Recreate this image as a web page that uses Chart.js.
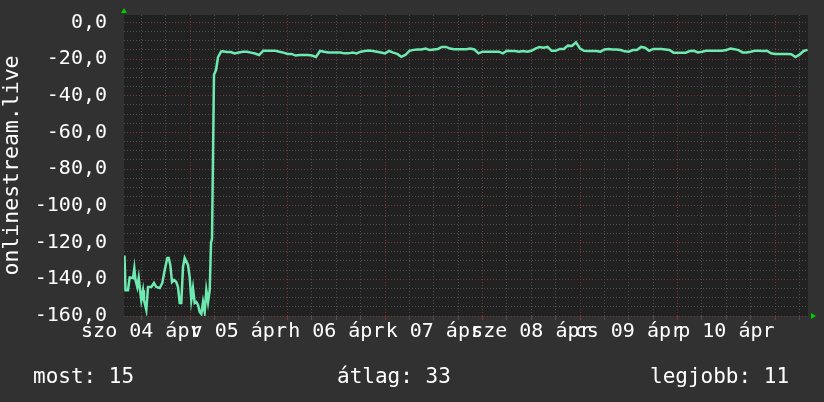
<!DOCTYPE html>
<html>
<head>
<meta charset="utf-8">
<script src="https://cdn.jsdelivr.net/npm/chart.js@4.4.1/dist/chart.umd.min.js"></script>
<style>
  html, body { margin: 0; padding: 0; background: #313131; }
  canvas { display: block; }
</style>
</head>
<body>
<canvas id="chart" width="824" height="402"></canvas>
<script>
// hours counted from szo 04 ápr 00:00
const earlyHours = [7.87, 8.12, 8.73, 9.15, 9.97, 10.29, 10.58, 11.02, 11.37, 11.61,
  12.01, 12.43, 12.67, 13.24, 13.66, 14.47, 15.13, 15.7, 16.54, 17.18,
  17.77, 18.41, 18.75, 19.15, 19.57, 20.06, 20.62, 21.04, 21.46, 21.85,
  22.27, 22.69, 23.5, 23.92, 24.32, 24.73, 25.15, 25.55, 25.97, 26.38,
  26.78, 27.2, 27.61, 28.01, 28.43, 28.85, 29.17, 29.41, 29.9, 30.4,
  30.89, 31.63];
const earlyRank = [-127, -146, -146, -139, -139.3, -134, -140.4, -144.2, -139.3, -144.2,
  -151.3, -146, -151.3, -156.7, -144.2, -144.2, -142, -144.2, -144.8, -142,
  -135, -128.4, -128.4, -132.2, -141.5, -140.4, -141.5, -144.2, -152.9, -152.9,
  -133.3, -128.4, -132.2, -138.8, -151.3, -144.8, -152.9, -152.4, -154, -157.8,
  -158.9, -152.4, -157.8, -145.9, -152.4, -145.9, -120, -118, -28.5, -26,
  -19, -16];

// one reading per hour from hour 32 on
const hourlyStart = 32;
const hourlyRank = [
  -15.8, -16.2, -16.2, -17.0, -16.4, -16.0, -16.0, -16.5, -17.0, -17.8,
  -15.5, -15.5, -15.5, -15.5, -16.0, -16.5, -17.2, -17.2, -18.1, -17.8,
  -17.8, -17.8, -18.1, -18.9, -15.6, -16.0, -16.4, -16.4, -16.4, -16.4,
  -16.9, -16.9, -16.5, -16.9, -16.0, -15.6, -15.3, -15.6, -16.0, -16.4,
  -16.9, -15.6, -16.5, -17.2, -18.8, -17.8, -15.5, -15.0, -14.8, -14.8,
  -14.3, -15.1, -14.8, -14.5, -13.4, -13.4, -14.3, -14.6, -14.6, -14.6,
  -14.6, -14.3, -14.8, -16.9, -16.0, -16.0, -16.0, -16.0, -16.0, -16.9,
  -15.5, -15.6, -15.6, -16.0, -15.6, -16.0, -15.5, -14.3, -13.4, -13.8,
  -13.4, -15.5, -15.5, -14.5, -14.5, -12.7, -12.9, -10.9, -14.3, -15.5,
  -15.6, -15.6, -15.6, -16.0, -14.8, -14.5, -14.8, -14.8, -15.1, -15.8,
  -16.0, -15.1, -15.1, -13.4, -13.8, -15.5, -14.5, -14.5, -14.5, -14.8,
  -15.1, -16.5, -16.5, -16.5, -16.5, -15.6, -15.5, -16.4, -16.0, -15.5,
  -15.5, -15.5, -15.5, -15.5, -15.1, -14.3, -14.6, -15.1, -16.4, -16.4,
  -16.0, -15.5, -15.5, -15.6, -15.5, -16.9, -17.2, -17.2, -17.2, -17.2,
  -17.4, -18.9, -17.6, -15.6, -15.0
];

const dayLabels = ['szo 04 ápr', 'v 05 ápr', 'h 06 ápr', 'k 07 ápr', 'sze 08 ápr', 'cs 09 ápr', 'p 10 ápr'];
const yMajor = [0, -20, -40, -60, -80, -100, -120, -140, -160];
const summary = ['most: 15', 'átlag: 33', 'legjobb: 11'];

const FONT = { family: 'DejaVu Sans Mono', size: 20 };
const RED = '#7a3636';
const GRAY = '#4e4e4e';

const points = earlyHours.map((h, i) => ({ x: h, y: earlyRank[i] }))
  .concat(hourlyRank.map((v, i) => ({ x: hourlyStart + i, y: v })));

const rrdLook = {
  id: 'rrdLook',
  beforeDraw(chart) {
    const { ctx, chartArea: a } = chart;
    ctx.save();
    ctx.fillStyle = '#313131';
    ctx.fillRect(0, 0, chart.width, chart.height);
    ctx.fillStyle = '#212121';
    ctx.fillRect(a.left, a.top, a.right - a.left, a.bottom - a.top);
    ctx.restore();
  },
  afterDraw(chart) {
    const { ctx, chartArea: a } = chart;
    ctx.save();
    // little green arrows at the axis ends
    ctx.fillStyle = '#00cc00';
    ctx.beginPath();
    ctx.moveTo(a.left - 3, a.top - 2);
    ctx.lineTo(a.left + 3, a.top - 2);
    ctx.lineTo(a.left, a.top - 7);
    ctx.fill();
    ctx.beginPath();
    ctx.moveTo(a.right + 3, a.bottom - 3);
    ctx.lineTo(a.right + 3, a.bottom + 3);
    ctx.lineTo(a.right + 8, a.bottom);
    ctx.fill();

    ctx.fillStyle = '#ffffff';
    ctx.font = '21px "DejaVu Sans Mono"';
    ctx.textBaseline = 'alphabetic';
    ctx.fillText(summary[0], 33, 383);
    ctx.fillText(summary[1], 337, 383);
    ctx.fillText(summary[2], 650, 383);
    ctx.restore();
  }
};

new Chart(document.getElementById('chart'), {
  type: 'line',
  data: {
    datasets: [{
      data: points,
      borderColor: '#6eeab0',
      borderWidth: 2.5,
      pointRadius: 0,
      tension: 0,
      fill: false
    }]
  },
  options: {
    responsive: false,
    animation: false,
    layout: { padding: { top: 15, right: 16, left: 0, bottom: 0 } },
    plugins: { legend: { display: false }, tooltip: { enabled: false } },
    scales: {
      x: {
        type: 'linear',
        min: 7.75,
        max: 176.1,
        afterBuildTicks(scale) {
          const t = [];
          for (let h = 12; h <= 174; h += 6) t.push({ value: h });
          scale.ticks = t;
        },
        afterFit(scale) { scale.height = 86; },
        ticks: {
          autoSkip: false,
          maxRotation: 0,
          minRotation: 0,
          padding: 0,
          color: '#ffffff',
          font: FONT,
          callback: (v) => (v % 24 === 12 ? dayLabels[(v - 12) / 24] : '')
        },
        grid: {
          color: (c) => (c.tick && c.tick.value % 24 === 0 ? RED : GRAY),
          tickColor: (c) => (c.tick && c.tick.value % 24 === 0 ? RED : GRAY),
          tickLength: 4,
          lineWidth: 1
        },
        border: { display: false, dash: [1, 2] }
      },
      y: {
        min: -160,
        max: 4,
        afterBuildTicks(scale) {
          const t = [];
          for (let v = -160; v <= 0; v += 5) t.push({ value: v });
          scale.ticks = t;
        },
        afterFit(scale) { scale.width = 124; },
        ticks: {
          autoSkip: false,
          padding: 0,
          color: '#ffffff',
          font: FONT,
          callback: (v) => (yMajor.includes(v) ? v.toFixed(1).replace('.', ',') : '')
        },
        grid: {
          color: (c) => (c.tick && c.tick.value % 20 === 0 ? RED : GRAY),
          drawTicks: true,
          tickLength: 17,
          tickColor: 'rgba(0,0,0,0)',
          lineWidth: 1
        },
        border: { display: false, dash: [1, 2] },
        title: {
          display: true,
          text: 'onlinestream.live',
          color: '#ffffff',
          font: { family: 'DejaVu Sans Mono', size: 21.5 },
          padding: 0
        }
      }
    }
  },
  plugins: [rrdLook]
});
</script>
</body>
</html>
